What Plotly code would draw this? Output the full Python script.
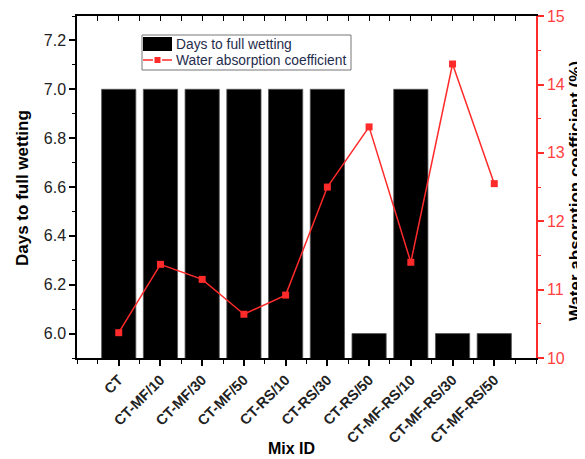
import plotly.graph_objects as go

categories = ["CT", "CT-MF/10", "CT-MF/30", "CT-MF/50", "CT-RS/10", "CT-RS/30",
              "CT-RS/50", "CT-MF-RS/10", "CT-MF-RS/30", "CT-MF-RS/50"]
days_to_wetting = [7, 7, 7, 7, 7, 7, 6, 7, 6, 6]
water_absorption = [10.37, 11.37, 11.15, 10.64, 10.92, 12.50, 13.38, 11.40, 14.30, 12.55]

xpos = list(range(len(categories)))

RED = "#ff2a2a"
font_family = "Liberation Sans, Arial, sans-serif"

# page offset (body margin) and target plot area in screen pixels
OFF = 8
L, R, T, B = 77, 536, 16, 358
W, H = 585 - OFF, 459 - OFF


def px(x):
    return (x - L) / (R - L)


def py(y):
    return (B - y) / (B - T)


fig = go.Figure()
fig.add_trace(go.Bar(
    x=xpos, y=days_to_wetting, name="Days to full wetting",
    marker=dict(color="black", line=dict(color="#555", width=0.8)),
    width=0.82, yaxis="y", showlegend=False))
fig.add_trace(go.Scatter(
    x=xpos, y=water_absorption, name="Water absorption coefficient",
    mode="lines+markers", line=dict(color=RED, width=1.5),
    marker=dict(symbol="square", size=7, color=RED), yaxis="y2", showlegend=False))
fig.add_trace(go.Scatter(x=[-1], y=[None], xaxis="x3", showlegend=False, hoverinfo="skip"))

shapes = [
    dict(type="rect", xref="paper", yref="paper", x0=px(142), x1=px(351), y0=py(70), y1=py(35),
         line=dict(color="#777", width=1), fillcolor="white", layer="above"),
    dict(type="rect", xref="paper", yref="paper", x0=px(143), x1=px(172), y0=py(51), y1=py(37),
         line=dict(width=0), fillcolor="black", layer="above"),
    dict(type="line", xref="paper", yref="paper", x0=px(143), x1=px(153), y0=py(60), y1=py(60),
         line=dict(color=RED, width=1.5), layer="above"),
    dict(type="line", xref="paper", yref="paper", x0=px(162), x1=px(172), y0=py(60), y1=py(60),
         line=dict(color=RED, width=1.5), layer="above"),
    dict(type="rect", xref="paper", yref="paper", x0=px(154.5), x1=px(160.5), y0=py(63), y1=py(57),
         line=dict(width=0), fillcolor=RED, layer="above"),
]

annotations = [
    dict(text="Days to full wetting", x=px(174), y=py(44), xref="paper", yref="paper",
         xanchor="left", yanchor="middle", showarrow=False,
         font=dict(size=13.8, color="#1f2d4d")),
    dict(text="Water absorption coefficient", x=px(174), y=py(61), xref="paper", yref="paper",
         xanchor="left", yanchor="middle", showarrow=False,
         font=dict(size=13.8, color="#1f2d4d")),
    dict(text="<b>Mix ID</b>", x=px(291), y=py(448), xref="paper", yref="paper",
         xanchor="center", yanchor="middle", showarrow=False,
         font=dict(size=16, color="black")),
    dict(text="<b>Days to full wetting</b>", x=px(22), y=py(188), xref="paper", yref="paper",
         xanchor="center", yanchor="middle", showarrow=False, textangle=-90,
         font=dict(size=17, color="black")),
    dict(text="<b>Water absorption coefficient (%)</b>", x=px(575), y=py(191), xref="paper",
         yref="paper", xanchor="center", yanchor="middle", showarrow=False, textangle=-90,
         font=dict(size=17, color="black")),
]

fig.update_layout(
    width=W, height=H,
    margin=dict(l=L - OFF, r=585 - R, t=T - OFF, b=459 - B, autoexpand=False),
    paper_bgcolor="white", plot_bgcolor="white",
    font=dict(family=font_family, color="#222"),
    showlegend=False,
    xaxis=dict(range=[-1, 10], tickmode="array", tickvals=xpos,
               ticktext=["<b>%s</b>" % c for c in categories],
               tickangle=-45, ticks="outside", ticklen=6, tickwidth=1.5, tickcolor="black",
               showline=True, linecolor="black", linewidth=1.5, showgrid=False, zeroline=False,
               automargin=False,
               tickfont=dict(size=14.5, color="#222"),
               minor=dict(dtick=0.5, tick0=0, ticks="outside", ticklen=4, tickwidth=1.2,
                          tickcolor="black")),
    xaxis3=dict(range=[-1, 10], overlaying="x", side="top", showticklabels=False,
                ticks="inside", ticklen=5, tickwidth=1.2, tickcolor="black", dtick=0.5, tick0=0,
                showline=True, linecolor="black", linewidth=1.5, showgrid=False, zeroline=False,
                automargin=False),
    yaxis=dict(range=[5.9, 7.3], dtick=0.2, tick0=6.0, tickformat=".1f",
               ticks="outside", ticklen=6, tickwidth=1.5, tickcolor="black",
               showline=True, linecolor="black", linewidth=1.5, showgrid=False, zeroline=False,
               automargin=False, ticklabeloverflow="allow",
               tickfont=dict(size=16, color="#222"),
               minor=dict(dtick=0.1, tick0=6.0, ticks="outside", ticklen=3, tickwidth=1.2,
                          tickcolor="black")),
    yaxis2=dict(range=[10, 15.002], tickmode="array", tickvals=[10, 11, 12, 13, 14, 15],
                overlaying="y", side="right",
                ticks="outside", ticklen=6, tickwidth=1.5, tickcolor=RED,
                showline=True, linecolor=RED, linewidth=1.5, showgrid=False, zeroline=False,
                automargin=False, ticklabeloverflow="allow",
                tickfont=dict(size=16, color="#ff4040"),
                minor=dict(dtick=0.5, tick0=10, ticks="outside", ticklen=3, tickwidth=1.2,
                           tickcolor=RED)),
    shapes=shapes,
    annotations=annotations,
)

fig.write_html("out.html")
